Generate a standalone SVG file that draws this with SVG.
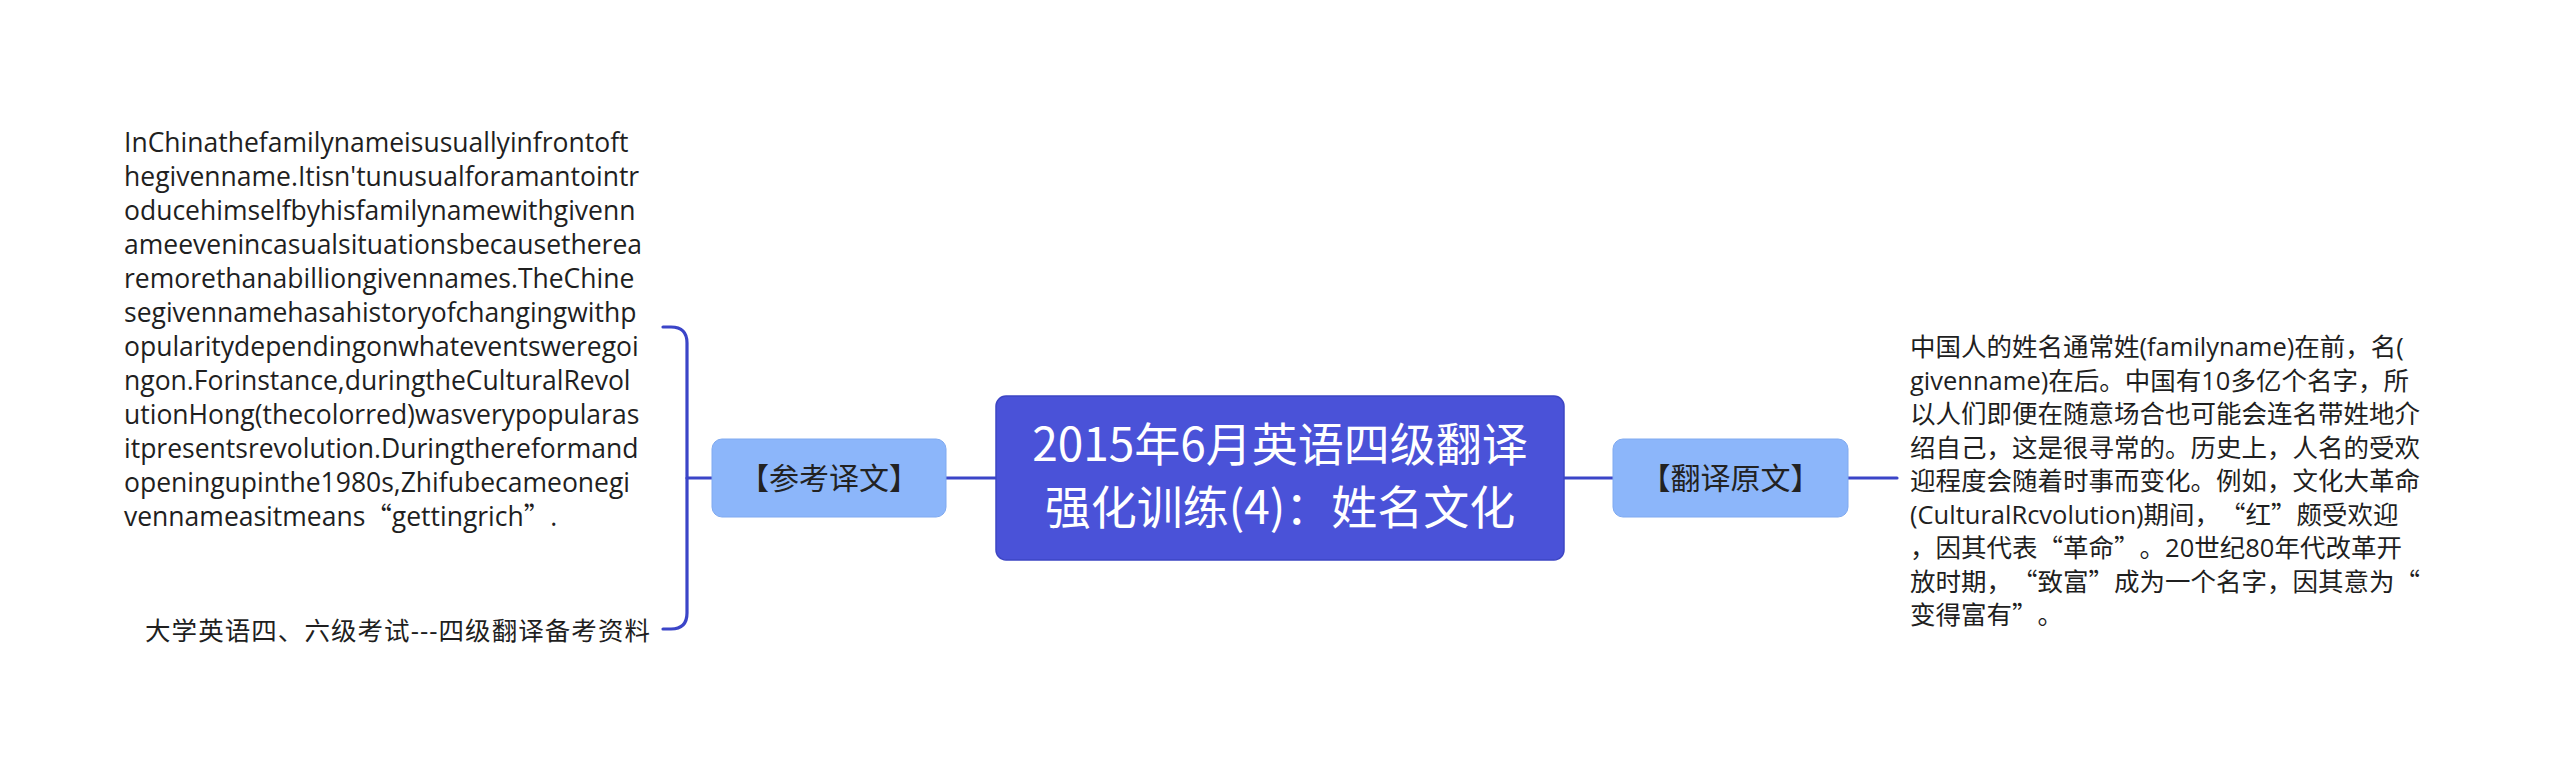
<svg xmlns="http://www.w3.org/2000/svg" width="2560" height="771" viewBox="0 0 2560 771">
<style>
.bg{fill:#ffffff}
.conn{fill:none;stroke:#3b45c8;stroke-width:3.2;stroke-linecap:round}
.root{fill:#4a52d8;stroke:#3d45c4;stroke-width:1.5}
.sub{fill:#8cb6fa;stroke:#80aaf0;stroke-width:1}
text{text-spacing-trim:space-all}
.title{font-family:"Noto Sans CJK SC","Noto Sans",sans-serif;font-size:46px;fill:#ffffff;text-anchor:middle}
.label{font-family:"Noto Sans CJK SC","Noto Sans",sans-serif;font-size:30px;fill:#222222;text-anchor:middle}
.body{font-family:"Open Sans","Noto Sans CJK SC",sans-serif;font-size:26.5px;fill:#1f1f1f}
.cn{font-family:"Open Sans","Noto Sans CJK SC",sans-serif;font-size:25.5px;fill:#1f1f1f}
.q{font-family:"Noto Sans CJK SC",sans-serif;font-feature-settings:"fwid" 1}
</style>
<rect class="bg" x="0" y="0" width="2560" height="771"/>
<g id="connectors">
<line class="conn" x1="946" y1="478" x2="996" y2="478"/>
<line class="conn" x1="1564" y1="478" x2="1613" y2="478"/>
<line class="conn" x1="1848" y1="478" x2="1897" y2="478"/>
<line class="conn" x1="687" y1="478" x2="712" y2="478"/>
<path class="conn" d="M663,327 H671 Q687,327 687,343 V613 Q687,629 671,629 H663"/>
</g>
<g id="root">
<rect class="root" x="996" y="396" width="568" height="164" rx="10"/>
<text class="title" x="1280" y="461">2015年6月英语四级翻译</text>
<text class="title" x="1280" y="524">强化训练(4)：姓名文化</text>
</g>
<g id="node-cankao">
<rect class="sub" x="712" y="439" width="234" height="78" rx="10"/>
<text class="label" x="829" y="489">【参考译文】</text>
</g>
<g id="node-yuanwen">
<rect class="sub" x="1613" y="439" width="235" height="78" rx="10"/>
<text class="label" x="1730.5" y="489">【翻译原文】</text>
</g>
<g id="text-english">
<text class="body" x="124">
<tspan x="124" y="152">InChinathefamilynameisusuallyinfrontoft</tspan>
<tspan x="124" y="186">hegivenname.Itisn'tunusualforamantointr</tspan>
<tspan x="124" y="220">oducehimselfbyhisfamilynamewithgivenn</tspan>
<tspan x="124" y="254">ameevenincasualsituationsbecausetherea</tspan>
<tspan x="124" y="288">remorethanabilliongivennames.TheChine</tspan>
<tspan x="124" y="322">segivennamehasahistoryofchangingwithp</tspan>
<tspan x="124" y="356">opularitydependingonwhateventsweregoi</tspan>
<tspan x="124" y="390">ngon.Forinstance,duringtheCulturalRevol</tspan>
<tspan x="124" y="424">utionHong(thecolorred)wasverypopularas</tspan>
<tspan x="124" y="458">itpresentsrevolution.Duringthereformand</tspan>
<tspan x="124" y="492">openingupinthe1980s,Zhifubecameonegi</tspan>
<tspan x="124" y="526">vennameasitmeans<tspan class="q">“</tspan>gettingrich<tspan class="q">”</tspan>.</tspan>
</text>
</g>
<g id="text-source">
<text class="cn" x="145" y="640" textLength="505" lengthAdjust="spacing">大学英语四、六级考试---四级翻译备考资料</text>
</g>
<g id="text-chinese">
<text class="cn" x="1910">
<tspan x="1910" y="356">中国人的姓名通常姓(familyname)在前，名(</tspan>
<tspan x="1910" y="389.5">givenname)在后。中国有10多亿个名字，所</tspan>
<tspan x="1910" y="423">以人们即便在随意场合也可能会连名带姓地介</tspan>
<tspan x="1910" y="456.5">绍自己，这是很寻常的。历史上，人名的受欢</tspan>
<tspan x="1910" y="490">迎程度会随着时事而变化。例如，文化大革命</tspan>
<tspan x="1910" y="523.5">(CulturalRcvolution)期间，<tspan class="q">“</tspan>红<tspan class="q">”</tspan>颇受欢迎</tspan>
<tspan x="1910" y="557">，因其代表<tspan class="q">“</tspan>革命<tspan class="q">”</tspan>。20世纪80年代改革开</tspan>
<tspan x="1910" y="590.5">放时期，<tspan class="q">“</tspan>致富<tspan class="q">”</tspan>成为一个名字，因其意为<tspan class="q">“</tspan></tspan>
<tspan x="1910" y="624">变得富有<tspan class="q">”</tspan>。</tspan>
</text>
</g>
</svg>
